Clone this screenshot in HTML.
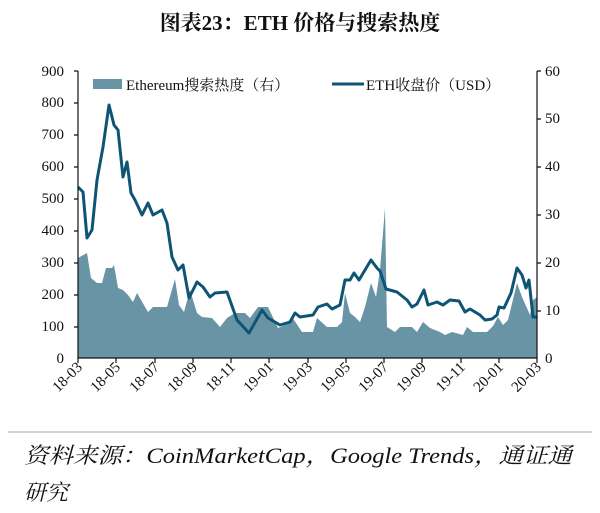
<!DOCTYPE html>
<html><head><meta charset="utf-8"><style>
body{margin:0;background:#fff;width:600px;height:513px;overflow:hidden;font-family:"Liberation Serif","Noto Serif CJK SC",serif;}
</style></head><body>
<svg width="600" height="513" xmlns="http://www.w3.org/2000/svg" style="position:absolute;left:0;top:0">
<text x="300" y="30" text-anchor="middle" font-size="21" font-weight="bold" font-family="Liberation Serif, Noto Serif CJK SC, serif" fill="#111">图表23：ETH 价格与搜索热度</text>
<g font-size="15" fill="#111" text-anchor="end">
<text x="64" y="363">0</text><text x="64" y="331">100</text><text x="64" y="299">200</text><text x="64" y="267">300</text><text x="64" y="235">400</text><text x="64" y="203">500</text><text x="64" y="171">600</text><text x="64" y="139">700</text><text x="64" y="107">800</text><text x="64" y="76">900</text>
</g>
<g font-size="15" fill="#111">
<text x="545" y="363">0</text><text x="545" y="315">10</text><text x="545" y="267">20</text><text x="545" y="219">30</text><text x="545" y="171">40</text><text x="545" y="123">50</text><text x="545" y="76">60</text>
</g>
<path fill="#6894a6" d="M78,358 L78,258 L87,253 L91,278 L97,283 L102,283 L106,268 L112,268 L114,265 L118,288 L123,290 L128,295 L133,302 L137,293 L148,312 L153,307 L167,307 L175,279 L179,305 L184,312 L190,290 L197,313 L202,317 L212,318 L220,327 L227,318 L235,313 L245,313 L250,318 L258,307 L268,307 L278,328 L285,325 L292,317 L302,332 L305,332 L313,332 L317,318 L327,327 L337,327 L342,322 L345,293 L350,313 L355,317 L360,322 L365,307 L371,283 L376,297 L380,270 L385,208 L387,327 L395,332 L400,327 L412,327 L417,332 L423,322 L430,328 L440,332 L445,335 L452,332 L463,335 L467,327 L473,332 L487,332 L493,326 L498,317 L503,325 L508,320 L517,283 L522,297 L530,315 L533,300 L537,297 L537,358 Z"/>
<path fill="none" stroke="#0e5475" stroke-width="3" stroke-linejoin="round" d="M78,187 L83,192 L87,238 L92,230 L97,180 L103,147 L109,105 L114,125 L118,130 L123,177 L127,162 L131,193 L135,200 L142,215 L148,203 L153,215 L162,210 L167,223 L172,257 L178,270 L183,265 L189,298 L197,282 L203,287 L210,297 L215,293 L227,292 L237,320 L249,333 L262,310 L268,318 L280,325 L290,322 L295,313 L300,317 L313,315 L318,307 L327,304 L332,309 L340,305 L345,280 L350,280 L354,273 L359,280 L371,260 L377,268 L380,271 L386,289 L397,292 L407,300 L412,307 L417,304 L424,290 L428,305 L437,302 L443,305 L450,300 L459,301 L465,312 L470,309 L480,315 L485,320 L492,319 L497,315 L499,307 L504,308 L511,293 L517,268 L522,275 L526,288 L529,280 L533,317 L537,317"/>
<g stroke="#111" stroke-width="1.2" fill="none">
<path d="M78,71 V358 H537 V71"/>
<path d="M74,71H78M74,103H78M74,135H78M74,167H78M74,199H78M74,231H78M74,263H78M74,295H78M74,327H78"/>
<path d="M537,71H541M537,119H541M537,167H541M537,215H541M537,263H541M537,311H541"/>
<path d="M78,358v5M116,358v5M155,358v5M193,358v5M231,358v5M269,358v5M308,358v5M346,358v5M384,358v5M422,358v5M461,358v5M499,358v5M537,358v5"/>
</g>
<g font-size="15" fill="#111" text-anchor="end">
<text transform="translate(83,368) rotate(-45)">18-03</text>
<text transform="translate(121,368) rotate(-45)">18-05</text>
<text transform="translate(160,368) rotate(-45)">18-07</text>
<text transform="translate(198,368) rotate(-45)">18-09</text>
<text transform="translate(236,368) rotate(-45)">18-11</text>
<text transform="translate(274,368) rotate(-45)">19-01</text>
<text transform="translate(313,368) rotate(-45)">19-03</text>
<text transform="translate(351,368) rotate(-45)">19-05</text>
<text transform="translate(389,368) rotate(-45)">19-07</text>
<text transform="translate(427,368) rotate(-45)">19-09</text>
<text transform="translate(466,368) rotate(-45)">19-11</text>
<text transform="translate(504,368) rotate(-45)">20-01</text>
<text transform="translate(542,368) rotate(-45)">20-03</text>
</g>
<rect x="93" y="79" width="29" height="10" fill="#6894a6"/>
<text x="126" y="90" font-size="15" fill="#111">Ethereum搜索热度（右）</text>
<line x1="332" y1="84" x2="364" y2="84" stroke="#0e5475" stroke-width="3"/>
<text x="366" y="90" font-size="15" fill="#111">ETH收盘价（USD）</text>
<line x1="8" y1="432" x2="592" y2="432" stroke="#aaa" stroke-width="1"/>
<text x="24" y="463" font-size="22" font-style="italic" fill="#111" textLength="548" lengthAdjust="spacingAndGlyphs">资料来源：CoinMarketCap，Google Trends，通证通</text>
<text x="24" y="500" font-size="22" font-style="italic" fill="#111">研究</text>
</svg>
</body></html>
